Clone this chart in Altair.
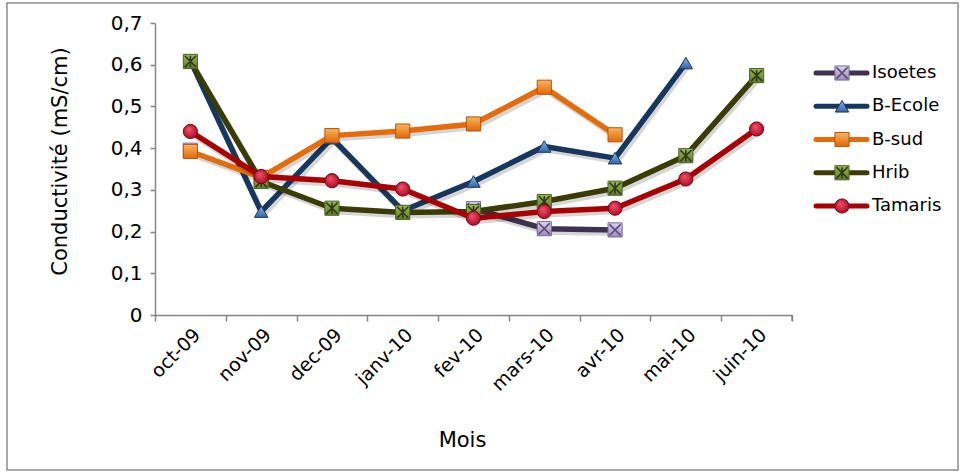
import altair as alt
import pandas as pd

# Monthly conductivity readings (mS/cm) per station; None = no measurement
months = ["oct-09", "nov-09", "dec-09", "janv-10", "fev-10",
          "mars-10", "avr-10", "mai-10", "juin-10"]
series_names = ["Isoetes", "B-Ecole", "B-sud", "Hrib", "Tamaris"]

isoetes = [0.395, None, None, None, 0.255, 0.207, 0.204, None, None]
b_ecole = [0.61, 0.248, 0.424, 0.25, 0.32, 0.404, 0.376, 0.604, None]
b_sud = [0.392, 0.33, 0.43, 0.441, 0.458, 0.546, 0.432, None, None]
hrib = [0.608, 0.32, 0.256, 0.246, 0.248, 0.272, 0.304, 0.382, 0.574]
tamaris = [0.44, 0.332, 0.322, 0.302, 0.232, 0.248, 0.256, 0.326, 0.446]

y_ticks = [0, 0.1, 0.2, 0.3, 0.4, 0.5, 0.6, 0.7]

values_by_series = {
    "Isoetes": isoetes,
    "B-Ecole": b_ecole,
    "B-sud": b_sud,
    "Hrib": hrib,
    "Tamaris": tamaris,
}

# Long table; a missing month starts a new line segment
rows = []
for name, vals in values_by_series.items():
    seg = 0
    for m, v in zip(months, vals):
        if v is None:
            seg += 1
            continue
        rows.append({"mois": m, "serie": name, "valeur": v, "troncon": f"{name}-{seg}"})
df = pd.DataFrame(rows)
legend_df = pd.DataFrame({"serie": series_names})

FONT = "DejaVu Sans"
AXIS_GREY = "#868686"

X_PATH = "M-1,-1L1,1M-1,1L1,-1"
STAR_PATH = "M-1,-1L1,1M-1,1L1,-1M0,-1L0,1"


def vgrad(top, bottom):
    return alt.Gradient(gradient="linear", x1=0, y1=0, x2=0, y2=1,
                        stops=[alt.GradientStop(offset=0, color=top),
                               alt.GradientStop(offset=1, color=bottom)])


def rgrad(inner, outer):
    return alt.Gradient(gradient="radial", x1=0.38, y1=0.32, r1=0,
                        x2=0.5, y2=0.5, r2=0.62,
                        stops=[alt.GradientStop(offset=0, color=inner),
                               alt.GradientStop(offset=1, color=outer)])


styles = {
    "Isoetes": dict(line="#403151", shape="square", fill=vgrad("#ddd4ea", "#9c88ba"),
                    stroke="#7a68a0", size=200, overlay=X_PATH, ocolor="#5a4a78"),
    "B-Ecole": dict(line="#17375e", shape="triangle-up", fill=vgrad("#8db3e8", "#3465a8"),
                    stroke="#17375e", size=180, overlay=None, ocolor=None),
    "B-sud": dict(line="#e46c0a", shape="square", fill=vgrad("#fbb45e", "#e0670a"),
                  stroke="#b85408", size=200, overlay=None, ocolor=None),
    "Hrib": dict(line="#3a3c05", shape="square", fill=vgrad("#9cb95a", "#5f7a2a"),
                 stroke="#4f6228", size=200, overlay=STAR_PATH, ocolor="#2f3a10"),
    "Tamaris": dict(line="#a80000", shape="circle", fill=rgrad("#f2566c", "#a3001a"),
                    stroke="#7a0010", size=200, overlay=None, ocolor=None),
}

x_enc = alt.X(
    "mois:N", sort=months, bandPosition=0.5,
    scale=alt.Scale(type="band", domain=months, paddingInner=0, paddingOuter=0),
    axis=alt.Axis(title="Mois", tickBand="extent", labelAngle=-45,
                  labelFontSize=19, labelColor="black", labelPadding=4,
                  domainColor=AXIS_GREY, domainWidth=1.5, tickColor=AXIS_GREY,
                  tickWidth=1.5, tickSize=6, grid=False,
                  titleFontSize=21, titleFontWeight="normal", titleColor="black",
                  titleX=307, titleY=131, titleBaseline="alphabetic"),
)
y_enc = alt.Y(
    "valeur:Q",
    scale=alt.Scale(domain=[0, 0.7], nice=False, zero=True),
    axis=alt.Axis(title="Conductivité (mS/cm)", values=y_ticks,
                  labelExpr="datum.value == 0 ? '0' : replace(format(datum.value, '.1f'), '.', ',')",
                  labelFontSize=20, labelColor="black", labelPadding=8,
                  domainColor=AXIS_GREY, domainWidth=1.5, tickColor=AXIS_GREY,
                  tickWidth=1.5, tickSize=5, grid=False,
                  titleFontSize=21, titleFontWeight="normal", titleColor="black",
                  titleX=-89, titleY=138, titleAlign="center", titleBaseline="alphabetic"),
)

# Data layers, drawn in series order so later stations sit on top
data_layers = []
for name in series_names:
    s = styles[name]
    base = alt.Chart(df).transform_filter(alt.datum.serie == name)
    data_layers.append(
        base.mark_line(color="#000000", opacity=0.16, strokeWidth=6, xOffset=2, yOffset=3,
                       strokeJoin="round").encode(x=x_enc, y=y_enc, detail="troncon:N"))
    data_layers.append(
        base.mark_line(color=s["line"], strokeWidth=5.5, strokeJoin="round")
        .encode(x=x_enc, y=y_enc, detail="troncon:N"))
    data_layers.append(
        base.mark_point(shape=s["shape"], filled=True, fill=s["fill"], stroke=s["stroke"],
                        strokeWidth=1, size=s["size"], opacity=1)
        .encode(x=x_enc, y=y_enc))
    if s["overlay"]:
        data_layers.append(
            base.mark_point(shape=s["overlay"], filled=False, color=s["ocolor"],
                            strokeWidth=1.6, size=125, opacity=1)
            .encode(x=x_enc, y=y_enc))

# Final tick closing the category axis on the right
end_tick = alt.Chart(alt.Data(values=[{"k": 1}])).mark_rule(
    color=AXIS_GREY, strokeWidth=1.5
).encode(x=alt.value(637), y=alt.value(292), y2=alt.value(298))

main = alt.layer(*data_layers, end_tick)

# Legend: line sample + marker + label per station
ly = alt.Y("serie:N", sort=series_names,
           scale=alt.Scale(type="point", domain=series_names, range=[50, 183], padding=0),
           axis=None)
legend_layers = []
for name in series_names:
    s = styles[name]
    lb = alt.Chart(legend_df).transform_filter(alt.datum.serie == name)
    legend_layers.append(
        lb.mark_rule(color=s["line"], strokeWidth=5, strokeCap="round")
        .encode(x=alt.value(661), x2=alt.value(712), y=ly))
    legend_layers.append(
        lb.mark_point(shape=s["shape"], filled=True, fill=s["fill"], stroke=s["stroke"],
                      strokeWidth=1, size=s["size"], opacity=1)
        .encode(x=alt.value(687), y=ly))
    if s["overlay"]:
        legend_layers.append(
            lb.mark_point(shape=s["overlay"], filled=False, color=s["ocolor"],
                          strokeWidth=1.6, size=125, opacity=1)
            .encode(x=alt.value(687), y=ly))
    legend_layers.append(
        lb.mark_text(align="left", baseline="middle", fontSize=18, font=FONT, color="black")
        .encode(x=alt.value(717), y=ly, text="serie:N"))

legend = alt.layer(*legend_layers)

frame = alt.Chart(alt.Data(values=[{"k": 1}])).mark_rect(
    filled=False, color="#8c8c8c", strokeWidth=1.5
).encode(x=alt.value(-148), x2=alt.value(803), y=alt.value(-20), y2=alt.value(447))

chart = (
    alt.layer(main, legend, frame)
    .resolve_scale(y="independent")
    .properties(
        width=637, height=292,
        autosize=alt.AutoSizeParams(type="none"),
        padding={"left": 155, "top": 23, "right": 174, "bottom": 159},
        background="white",
    )
    .configure(font=FONT)
    .configure_view(stroke="transparent")
)

chart.save("out.html", embed_options={"renderer": "svg", "actions": False})
